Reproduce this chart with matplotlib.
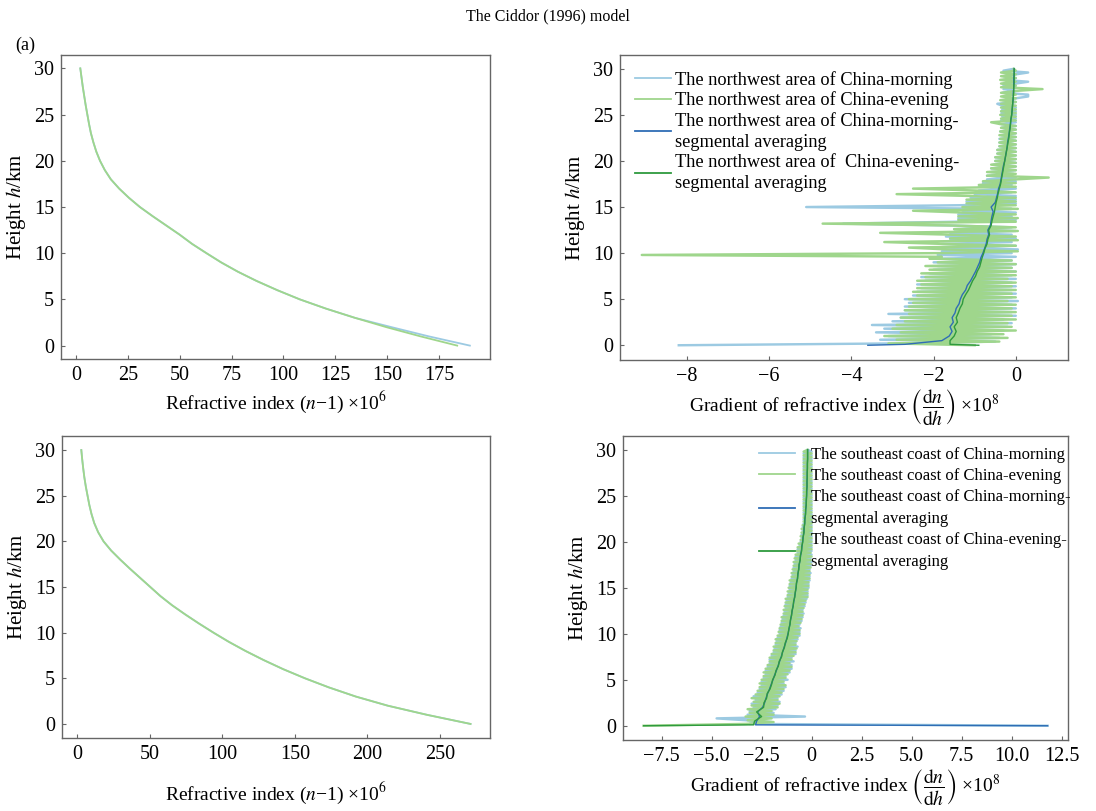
import numpy as np
import matplotlib
matplotlib.use("Agg")
import matplotlib.pyplot as plt
from matplotlib.ticker import FuncFormatter

plt.rcParams['font.family'] = ['Liberation Serif', 'DejaVu Serif']
plt.rcParams['mathtext.fontset'] = 'stix'
plt.rcParams['axes.unicode_minus'] = True

## Colours
C_LB = '#9ccae2'   # raw morning
C_LG = '#9fd68c'   # raw evening
C_DB = '#2f6db5'   # averaged morning
C_DG = '#2e9a3e'   # averaged evening

## Refractive index profiles (n-1)*1e6 against height (km)
h_prof = [0, 1, 2, 3, 4, 5, 6, 7, 8, 9, 10, 11, 12, 13, 14, 15, 16, 17, 18, 19, 20,
          21, 22, 23, 24, 25, 26, 27, 28, 29, 30]
nw_morning_n = [189.8, 170, 152, 134.5, 120.5, 107.9, 97, 87, 78, 70, 62.9, 56, 50, 43.5, 37,
                30.8, 25.5, 20.8, 16.8, 13.9, 11.6, 9.8, 8.4, 7.2, 6.3, 5.5, 4.7, 4.0, 3.3, 2.7, 2.1]
nw_evening_n = [183.7, 166, 149.5, 134.5, 120.5, 107.9, 97, 87, 78, 70, 62.9, 56, 50, 43.5, 37,
                30.8, 25.5, 20.8, 16.8, 13.9, 11.6, 9.8, 8.4, 7.2, 6.3, 5.5, 4.7, 4.0, 3.3, 2.7, 2.1]
se_morning_n = [271, 241, 214, 192, 173.5, 157, 142, 128.5, 116, 104.5, 94, 84, 74.5, 65.5, 57.5,
                50.5, 43.5, 36.5, 29.8, 23.5, 18.3, 14.6, 11.9, 10.0, 8.5, 7.3, 6.1, 5.1, 4.3, 3.6, 3.0]
se_evening_n = [271, 241, 214, 192, 173.5, 157, 142, 128.5, 116, 104.5, 94, 84, 74.5, 65.5, 57.5,
                50.5, 43.5, 36.5, 29.8, 23.5, 18.3, 14.6, 11.9, 10.0, 8.5, 7.3, 6.1, 5.1, 4.3, 3.6, 3.0]

## Raw gradients (dn/dh)*1e8, every 0.2 km (one row = 2 km)
h_raw = np.arange(0, 30.01, 0.2)
nw_morning_g = [
    -8.2, -2.9, -0.5, -3.3, -0.4, -3.1, -0.6, -3.4, -0.3, -3.2,
    -0.2, -3.5, -0.1, -3.0, -0.3, -2.8, 0.0, -3.1, -0.1, -2.7,
    0.0, -2.7, -0.1, -2.6, 0.05, -2.7, -0.1, -2.5, 0.0, -2.4,
    -0.1, -2.3, 0.0, -2.4, -0.1, -2.2, 0.0, -2.3, -0.1, -2.1,
    0.0, -2.0, -0.1, -1.9, 0.0, -2.0, -0.1, -1.8, 0.0, -1.9,
    -0.1, -1.8, 0.05, -1.7, 0.0, -1.8, -0.1, -1.6, 0.0, -1.7,
    -0.1, -1.6, 0.0, -1.5, -0.1, -1.6, -4.2, -1.5, 0.0, -1.4,
    -0.1, -1.4, 0.0, -1.3, -0.1, -5.1, -1.3, 0.0, -1.2, 0.0,
    -1.1, 0.0, -1.0, -0.1, -0.9, 0.0, -0.9, -0.1, -0.8, 0.0,
    -0.7, 0.0, -0.7, -0.05, -0.6, 0.0, -0.6, 0.0, -0.55, 0.0,
    -0.5, 0.0, -0.5, 0.0, -0.45, 0.0, -0.45, 0.0, -0.4, 0.0,
    -0.4, 0.0, -0.4, 0.0, -0.35, 0.0, -0.38, 0.0, -0.35, 0.0,
    -0.35, 0.0, -0.36, 0.0, -0.33, 0.0, -0.35, 0.0, -0.33, 0.0,
    -0.33, -0.45, 0.0, -0.32, 0.0, 0.3, 0.3, -0.32, 0.0, -0.3,
    0.0, -0.3, 0.0, 0.3, -0.3, 0.0, -0.3, 0.0, 0.3, -0.3,
    -0.05]
nw_evening_g = [
    -1.0, -3.1, -0.4, -2.9, -0.2, -3.2, -0.3, -2.8, 0.0, -3.0,
    -0.1, -2.9, -0.2, -2.7, 0.0, -2.8, -0.1, -2.6, 0.0, -2.7,
    -0.1, -2.6, 0.0, -2.5, -0.2, -2.6, 0.0, -2.4, -0.1, -2.5,
    0.0, -2.4, -0.1, -2.3, 0.0, -2.4, -0.2, -2.2, 0.0, -2.3,
    0.0, -2.1, -0.1, -2.2, 0.0, -1.9, -0.1, -2.1, -1.8, -9.1,
    -1.8, 0.05, -1.7, -2.6, 0.0, -1.8, -3.2, 0.05, -1.6, 0.0,
    -1.6, -3.3, 0.05, -1.5, 0.0, -1.6, -4.7, 0.0, -1.4, 0.05,
    -1.4, 0.0, -1.3, -2.5, 0.05, -1.3, 0.0, -1.2, 0.0, -1.2,
    0.0, -1.1, -2.9, 0.0, -1.0, -2.5, 0.0, -0.9, 0.0, -0.8,
    0.0, 0.8, -0.7, 0.0, -0.7, 0.0, -0.6, 0.0, -0.6, 0.0,
    -0.5, 0.0, -0.5, 0.0, -0.45, 0.0, -0.45, 0.0, -0.4, 0.0,
    -0.4, 0.0, -0.38, 0.0, -0.4, 0.0, -0.38, 0.0, -0.36, 0.0,
    -0.38, -0.6, 0.0, -0.36, 0.0, -0.38, 0.0, -0.36, 0.0, -0.36,
    0.0, -0.36, 0.0, -0.38, 0.0, -0.36, 0.0, -0.36, 0.0, 0.65,
    -0.36, 0.0, -0.36, 0.0, -0.38, 0.0, -0.36, 0.0, -0.36, 0.0,
    -0.05]
se_morning_g = [
    11.8, -3.1, -2.0, -3.3, -4.75, -0.33, -3.2, -1.9, -3.1, -1.8,
    -2.9, -1.7, -3.0, -1.6, -2.8, -1.7, -2.9, -1.5, -2.7, -1.4,
    -2.6, -1.3, -2.5, -1.4, -2.5, -1.2, -2.4, -1.3, -2.3, -1.1,
    -2.3, -1.0, -2.2, -1.0, -2.1, -0.9, -2.1, -1.0, -2.0, -0.8,
    -1.9, -0.8, -1.85, -0.7, -1.8, -0.8, -1.75, -0.7, -1.7, -0.6,
    -1.6, -0.6, -1.6, -0.55, -1.55, -0.6, -1.5, -0.5, -1.45, -0.45,
    -1.4, -0.4, -1.35, -0.45, -1.3, -0.35, -1.3, -0.3, -1.25, -0.25,
    -1.2, -0.2, -1.15, -0.2, -1.1, -0.15, -1.1, -0.15, -1.05, -0.1,
    -1.0, -0.1, -0.95, -0.05, -0.9, -0.1, -0.9, -0.05, -0.85, 0.0,
    -0.8, -0.05, -0.8, 0.0, -0.7, 0.0, -0.7, 0.0, -0.6, 0.0,
    -0.55, 0.0, -0.5, 0.0, -0.5, 0.0, -0.45, 0.0, -0.45, 0.0,
    -0.4, 0.0, -0.4, 0.0, -0.4, 0.0, -0.4, 0.0, -0.4, 0.0,
    -0.4, 0.0, -0.4, 0.0, -0.4, 0.0, -0.4, 0.0, -0.4, 0.0,
    -0.4, 0.0, -0.4, 0.0, -0.4, 0.0, -0.4, 0.0, -0.4, 0.0,
    -0.4, 0.0, -0.4, 0.0, -0.4, 0.0, -0.4, 0.0, -0.4, 0.0,
    -0.2]
se_evening_g = [
    -8.4, -3.3, -1.9, -3.2, -2.0, -3.3, -1.9, -3.1, -2.0, -3.2,
    -1.7, -3.0, -1.6, -2.9, -1.7, -3.0, -1.6, -2.8, -1.5, -2.7,
    -1.4, -2.6, -1.3, -2.6, -1.4, -2.5, -1.3, -2.4, -1.2, -2.4,
    -1.1, -2.3, -1.0, -2.2, -1.1, -2.1, -1.0, -2.1, -0.9, -2.0,
    -0.8, -1.9, -0.75, -1.9, -0.8, -1.8, -0.75, -1.8, -0.7, -1.7,
    -0.6, -1.65, -0.6, -1.6, -0.65, -1.55, -0.55, -1.5, -0.5, -1.5,
    -0.45, -1.4, -0.45, -1.4, -0.4, -1.35, -0.35, -1.3, -0.3, -1.3,
    -0.2, -1.2, -0.2, -1.2, -0.2, -1.15, -0.15, -1.1, -0.15, -1.1,
    -0.1, -1.0, -0.1, -1.0, -0.1, -0.95, -0.05, -0.9, -0.05, -0.9,
    -0.05, -0.85, 0.0, -0.8, -0.05, -0.75, 0.0, -0.7, 0.0, -0.65,
    0.0, -0.55, 0.0, -0.55, 0.0, -0.5, 0.0, -0.5, 0.0, -0.45,
    0.0, -0.4, 0.0, -0.4, 0.0, -0.4, 0.0, -0.4, 0.0, -0.4,
    0.0, -0.4, 0.0, -0.4, 0.0, -0.4, 0.0, -0.4, 0.0, -0.4,
    0.0, -0.4, 0.0, -0.4, 0.0, -0.4, 0.0, -0.4, 0.0, -0.4,
    0.0, -0.4, 0.0, -0.4, 0.0, -0.4, 0.0, -0.4, 0.0, -0.4,
    -0.2]

## Segmental averages: surface point, 0.1 km, then every 0.5 km
h_avg = np.concatenate([[0.0, 0.1], np.arange(0.5, 30.01, 0.5)])
nw_morning_avg = [
    -3.6, -2.7, -1.8, -1.62, -1.55, -1.6, -1.52, -1.55, -1.48, -1.45, -1.38,
    -1.35, -1.3, -1.22, -1.18, -1.1, -1.04, -0.98, -0.93, -0.88, -0.85,
    -0.8, -0.76, -0.72, -0.7, -0.66, -0.68, -0.62, -0.6, -0.58, -0.55,
    -0.6, -0.5, -0.47, -0.44, -0.42, -0.38, -0.36, -0.34, -0.32, -0.3,
    -0.27, -0.25, -0.23, -0.21, -0.2, -0.18, -0.16, -0.15, -0.13, -0.12,
    -0.1, -0.09, -0.08, -0.07, -0.06, -0.06, -0.05, -0.05, -0.05, -0.04, -0.04]
nw_evening_avg = [
    -0.9, -1.6, -1.6, -1.5, -1.45, -1.5, -1.42, -1.45, -1.4, -1.36, -1.3,
    -1.28, -1.22, -1.15, -1.1, -1.05, -0.98, -0.94, -0.88, -0.85, -0.82,
    -0.78, -0.75, -0.7, -0.68, -0.64, -0.66, -0.6, -0.58, -0.55, -0.52,
    -0.5, -0.48, -0.45, -0.43, -0.4, -0.37, -0.35, -0.33, -0.31, -0.29,
    -0.27, -0.25, -0.23, -0.21, -0.19, -0.17, -0.16, -0.14, -0.13, -0.12,
    -0.1, -0.09, -0.08, -0.07, -0.06, -0.05, -0.05, -0.04, -0.04, -0.04, -0.04]
se_morning_avg = [
    11.8, -2.8, -2.75, -2.6, -2.7, -2.45, -2.35, -2.28, -2.2, -2.1, -2.02,
    -1.93, -1.85, -1.76, -1.68, -1.6, -1.52, -1.45, -1.38, -1.3, -1.24,
    -1.18, -1.13, -1.09, -1.05, -1.01, -0.97, -0.93, -0.89, -0.85, -0.81,
    -0.78, -0.75, -0.71, -0.68, -0.65, -0.62, -0.58, -0.55, -0.51, -0.48,
    -0.45, -0.42, -0.39, -0.37, -0.35, -0.33, -0.31, -0.29, -0.27, -0.26,
    -0.25, -0.24, -0.23, -0.23, -0.22, -0.22, -0.21, -0.21, -0.2, -0.2, -0.2]
se_evening_avg = [
    -8.4, -2.9, -2.85, -2.5, -2.75, -2.4, -2.38, -2.25, -2.22, -2.08, -2.0,
    -1.95, -1.83, -1.78, -1.66, -1.62, -1.5, -1.46, -1.36, -1.32, -1.22,
    -1.17, -1.14, -1.08, -1.06, -1.0, -0.98, -0.92, -0.9, -0.84, -0.82,
    -0.77, -0.76, -0.7, -0.69, -0.64, -0.63, -0.57, -0.56, -0.5, -0.49,
    -0.44, -0.43, -0.38, -0.38, -0.34, -0.34, -0.3, -0.3, -0.27, -0.27,
    -0.25, -0.25, -0.23, -0.23, -0.22, -0.22, -0.21, -0.21, -0.2, -0.2, -0.2]

nw_labels = ['The northwest area of China-morning',
             'The northwest area of China-evening',
             'The northwest area of China-morning-\nsegmental averaging',
             'The northwest area of  China-evening-\nsegmental averaging']
se_labels = ['The southeast coast of China-morning',
             'The southeast coast of China-evening',
             'The southeast coast of China-morning-\nsegmental averaging',
             'The southeast coast of China-evening-\nsegmental averaging']

TICK_FS = 14.5
XL_FS = 14
YL_FS = 15
RAW_LW = 1.75
W, H = 1096, 811
fig = plt.figure(figsize=(W / 100, H / 100), dpi=100)


def box(l, t, r, b):
    return [l / W, 1 - b / H, (r - l) / W, (b - t) / H]


def style(ax):
    for s in ax.spines.values():
        s.set_color('#666666')
        s.set_linewidth(1.0)
    ax.tick_params(direction='in', length=3, width=0.8, color='#666666',
                   labelsize=TICK_FS, pad=5)
    ax.set_yticks([0, 5, 10, 15, 20, 25, 30])
    ax.set_ylabel('Height $h$/km', fontsize=YL_FS, labelpad=4)


def zero_fmt(dec):
    def f(v, pos):
        if abs(v) < 1e-9:
            return '0'
        return ('{:.%df}' % dec).format(v).replace('-', '\u2212')
    return FuncFormatter(f)


def spread_legend(leg, ls):
    for t in leg.get_texts():
        t.set_linespacing(ls)
    for ln in leg.get_lines():
        ln.set_linewidth(1.3)


grad_label = r'Gradient of refractive index $\left(\dfrac{\mathrm{d}n}{\mathrm{d}h}\right)$ ×10$^8$'
idx_label = 'Refractive index ($n$\u22121) ×10$^6$'

# top-left
ax1 = fig.add_axes(box(61, 55, 490, 359))
ax1.plot(nw_morning_n, h_prof, color=C_LB, lw=1.3)
ax1.plot(nw_evening_n, h_prof, color=C_LG, lw=1.3)
ax1.set_xlim(-7.2, 199.5)
ax1.set_ylim(-1.45, 31.45)
ax1.set_xticks([0, 25, 50, 75, 100, 125, 150, 175])
style(ax1)
ax1.set_xlabel(idx_label, fontsize=XL_FS, labelpad=3)

# top-right
ax2 = fig.add_axes(box(620, 55, 1068, 360))
ax2.plot(nw_morning_g, h_raw, color=C_LB, lw=RAW_LW, label=nw_labels[0])
ax2.plot(nw_evening_g, h_raw, color=C_LG, lw=RAW_LW, label=nw_labels[1])
ax2.plot(nw_morning_avg, h_avg, color=C_DB, lw=1.0, label=nw_labels[2])
ax2.plot(nw_evening_avg, h_avg, color=C_DG, lw=1.0, label=nw_labels[3])
ax2.set_xlim(-9.63, 1.27)
ax2.set_ylim(-1.6, 31.5)
ax2.set_xticks([-8, -6, -4, -2, 0])
ax2.xaxis.set_major_formatter(zero_fmt(0))
style(ax2)
ax2.set_xlabel(grad_label, fontsize=XL_FS, labelpad=1)
leg2 = ax2.legend(loc='upper left', bbox_to_anchor=(0.005, 0.99), frameon=False,
                  fontsize=13.2, handlelength=1.95, handletextpad=0.25, labelspacing=0.14,
                  borderaxespad=0.3)
spread_legend(leg2, 1.3)

# bottom-left
ax3 = fig.add_axes(box(62, 436, 490, 738))
ax3.plot(se_morning_n, h_prof, color=C_LB, lw=1.3)
ax3.plot(se_evening_n, h_prof, color=C_LG, lw=1.3)
ax3.set_xlim(-10.3, 284.4)
ax3.set_ylim(-1.54, 31.54)
ax3.set_xticks([0, 50, 100, 150, 200, 250])
style(ax3)
ax3.set_xlabel(idx_label, fontsize=XL_FS, labelpad=12)

# bottom-right
ax4 = fig.add_axes(box(623, 436, 1068, 740))
ax4.plot(se_morning_g, h_raw, color=C_LB, lw=RAW_LW, label=se_labels[0])
ax4.plot(se_evening_g, h_raw, color=C_LG, lw=RAW_LW, label=se_labels[1])
ax4.plot(se_morning_avg, h_avg, color=C_DB, lw=1.0, label=se_labels[2])
ax4.plot(se_evening_avg, h_avg, color=C_DG, lw=1.0, label=se_labels[3])
ax4.set_xlim(-9.43, 12.82)
ax4.set_ylim(-1.55, 31.5)
ax4.set_xticks([-7.5, -5.0, -2.5, 0, 2.5, 5.0, 7.5, 10.0, 12.5])
ax4.xaxis.set_major_formatter(zero_fmt(1))
style(ax4)
ax4.set_xlabel(grad_label, fontsize=XL_FS, labelpad=1)
leg4 = ax4.legend(loc='upper right', bbox_to_anchor=(1.022, 0.985), frameon=False,
                  fontsize=12, handlelength=2.15, handletextpad=1.0, labelspacing=0.3,
                  borderaxespad=0.0)
spread_legend(leg4, 1.5)

fig.text(548 / W, 1 - 16 / H, 'The Ciddor (1996) model', ha='center', va='center', fontsize=11.5)
fig.text(15 / W, 1 - 45 / H, '(a)', ha='left', va='center', fontsize=13)

fig.savefig('out.png', dpi=100)
